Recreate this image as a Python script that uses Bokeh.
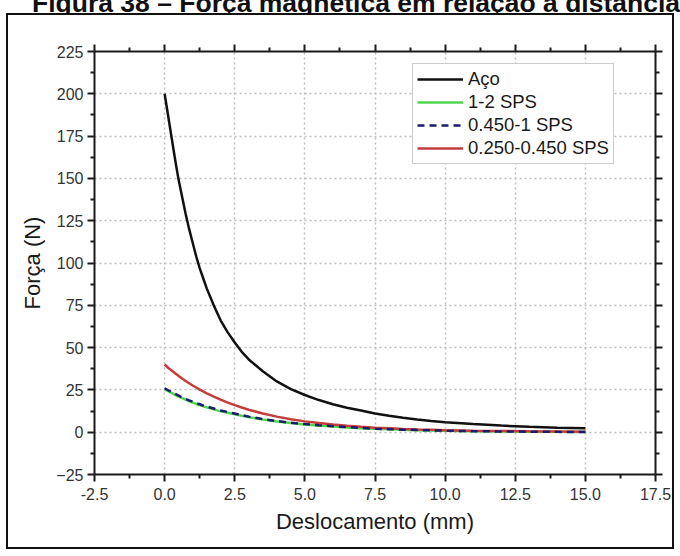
from bokeh.plotting import figure
from bokeh.models import (LinearAxis, FixedTicker, Legend, LegendItem, Div, NumeralTickFormatter)
from bokeh.layouts import column
from bokeh.embed import file_html
from bokeh.resources import INLINE

# ---- data ----
distance = [0, 0.125, 0.25, 0.375, 0.5, 0.625, 0.75, 0.875, 1.0, 1.125, 1.25, 1.375, 1.5, 1.625,
            1.75, 1.875, 2.0, 2.25, 2.5, 2.75, 3.0, 3.5, 4.0, 4.5, 5.0,
            5.5, 6.0, 6.5, 7.0, 7.5, 8.0, 8.5, 9.0, 9.5, 10, 11, 12, 13, 14, 15]
force_aco = [200, 187, 174, 161, 149, 139, 129, 120, 112, 104, 97, 91, 85, 80,
             75, 70.5, 66, 59, 53, 47.5, 43, 36, 30, 25.5, 22,
             19, 16.5, 14.5, 12.8, 11, 9.7, 8.5, 7.5, 6.6, 5.9, 4.8, 3.9, 3.2, 2.7, 2.3]
force_1_2 = [25.5, 24.3, 23.2, 22.1, 21.1, 20.1, 19.2, 18.3, 17.5, 16.7, 16.0, 15.3, 14.7, 14.1,
             13.5, 12.9, 12.4, 11.5, 10.6, 9.7, 8.9, 7.5, 6.3, 5.4, 4.6,
             3.9, 3.3, 2.8, 2.4, 2.0, 1.7, 1.4, 1.2, 1.0, 0.85, 0.6, 0.4, 0.3, 0.2, 0.15]
force_0450_1 = [26, 24.8, 23.7, 22.6, 21.6, 20.6, 19.7, 18.8, 18, 17.2, 16.5, 15.8, 15.2, 14.6,
                14, 13.4, 12.8, 11.9, 11, 10.1, 9.2, 7.8, 6.6, 5.6, 4.8,
                4.1, 3.5, 3.0, 2.5, 2.1, 1.8, 1.5, 1.3, 1.1, 0.9, 0.6, 0.45, 0.3, 0.2, 0.15]
force_0250_0450 = [40, 38.1, 36.4, 34.8, 33.2, 31.7, 30.3, 28.9, 27.6, 26.4, 25.2, 24.1, 23, 22,
                   21, 20.1, 19.2, 17.5, 16, 14.6, 13.3, 11.1, 9.2, 7.7, 6.4,
                   5.4, 4.5, 3.8, 3.2, 2.7, 2.3, 1.9, 1.6, 1.4, 1.2, 0.9, 0.7, 0.5, 0.4, 0.3]
series_names = ["Aço", "1-2 SPS", "0.450-1 SPS", "0.250-0.450 SPS"]
x_ticks = [-2.5, 0.0, 2.5, 5.0, 7.5, 10.0, 12.5, 15.0, 17.5]
y_ticks = [-25, 0, 25, 50, 75, 100, 125, 150, 175, 200, 225]
title_text = "Figura 38 – Força magnética em relação à distância"
x_label = "Deslocamento (mm)"
y_label = "Força (N)"

FONT = "Liberation Sans"

x_minor = [(a + b) / 2 for a, b in zip(x_ticks[:-1], x_ticks[1:])]
y_minor = [(a + b) / 2 for a, b in zip(y_ticks[:-1], y_ticks[1:])]

p = figure(width=668, height=536, output_backend="svg", toolbar_location=None,
           x_range=(x_ticks[0], x_ticks[-1]), y_range=(y_ticks[0], y_ticks[-1]),
           min_border_left=86, min_border_right=21, min_border_top=36, min_border_bottom=77,
           margin=(0, 0, 0, 6),
           styles={"border": "2px solid #111111"})
p.background_fill_color = "white"
p.border_fill_color = "white"
p.outline_line_color = None


def style_axis(ax, ticks, minor, show_labels):
    ax.ticker = FixedTicker(ticks=ticks, minor_ticks=minor)
    ax.axis_line_width = 2
    ax.axis_line_color = "#1a1a1a"
    ax.major_tick_line_width = 2
    ax.major_tick_line_color = "#1a1a1a"
    ax.minor_tick_line_width = 2
    ax.minor_tick_line_color = "#1a1a1a"
    ax.major_tick_out = 7
    ax.major_tick_in = 0
    ax.minor_tick_out = 4
    ax.minor_tick_in = 0
    ax.major_label_text_font = FONT
    ax.major_label_text_font_size = "16px"
    ax.major_label_text_color = "#333333"
    ax.axis_label_text_font = FONT
    ax.axis_label_text_font_size = "22px"
    ax.axis_label_text_font_style = "normal"
    ax.axis_label_text_color = "#1a1a1a"
    if not show_labels:
        ax.major_label_text_font_size = "0px"
        ax.major_label_standoff = 0


xa = p.xaxis[0]
ya = p.yaxis[0]
style_axis(xa, x_ticks, x_minor, True)
style_axis(ya, y_ticks, y_minor, True)
xa.formatter = NumeralTickFormatter(format="0.0")
xa.axis_label = x_label
ya.axis_label = y_label
xa.major_label_standoff = 6
xa.axis_label_standoff = 6
ya.major_label_standoff = 4
ya.axis_label_standoff = 8

top = LinearAxis()
right = LinearAxis()
p.add_layout(top, "above")
p.add_layout(right, "right")
style_axis(top, x_ticks, x_minor, False)
style_axis(right, y_ticks, y_minor, False)

for g in (p.xgrid[0], p.ygrid[0]):
    g.grid_line_color = "#bdbdbd"
    g.grid_line_dash = "2 3"
    g.grid_line_width = 1.5
p.xgrid[0].ticker = FixedTicker(ticks=x_ticks)
p.ygrid[0].ticker = FixedTicker(ticks=y_ticks)

r_aco = p.line(distance, force_aco, line_color="#111111", line_width=2.5)
r_12 = p.line(distance, force_1_2, line_color="#4fd64f", line_width=2.5)
r_red = p.line(distance, force_0250_0450, line_color="#c43c3c", line_width=2.5)
r_blue = p.line(distance, force_0450_1, line_color="#1c1c6e", line_width=2.5, line_dash="7 5")

legend = Legend(items=[LegendItem(label=series_names[0], renderers=[r_aco]),
                       LegendItem(label=series_names[1], renderers=[r_12]),
                       LegendItem(label=series_names[2], renderers=[r_blue]),
                       LegendItem(label=series_names[3], renderers=[r_red])],
                location=(318, 310))
legend.label_text_font = FONT
legend.label_text_font_size = "18.5px"
legend.label_text_color = "#1a1a1a"
legend.glyph_width = 46
legend.glyph_height = 18
legend.label_height = 21
legend.label_standoff = 5
legend.spacing = 1
legend.padding = 4
legend.margin = 0
legend.border_line_color = "#9a9a9a"
legend.border_line_width = 1
legend.background_fill_alpha = 1
p.add_layout(legend, "center")

title_div = Div(
    text=('<div style="margin-top:-21px;font-family:\'Liberation Sans\';font-weight:bold;'
          'font-size:26.5px;line-height:30px;white-space:nowrap;color:#111;padding-left:32px">'
          + title_text + '</div>'),
    width=680, height=13, margin=(0, 0, 0, 0),
    styles={"overflow": "hidden"})

layout = column(title_div, p, spacing=0, margin=0)

open("out.html", "w").write(file_html(layout, INLINE))
